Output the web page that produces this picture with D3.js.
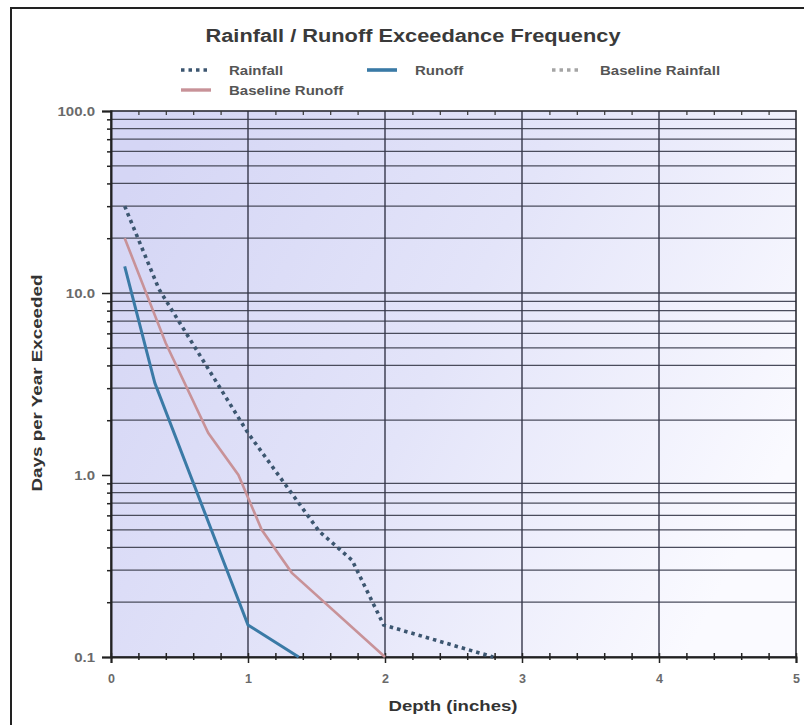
<!DOCTYPE html>
<html><head><meta charset="utf-8">
<script src="https://cdn.jsdelivr.net/npm/d3@7"></script>
<style>
html,body{margin:0;padding:0;background:#fff;}
svg{display:block;font-family:"Liberation Sans",Arial,sans-serif;}
</style></head>
<body>
<svg id="chart" width="804" height="725"></svg>
<script>
// ---- data ----
const titleText = "Rainfall / Runoff Exceedance Frequency";
const xTitle = "Depth (inches)";
const yTitle = "Days per Year Exceeded";
const xTicks = [0, 1, 2, 3, 4, 5];
const xMinorTicks = [0.2,0.4,0.6,0.8,1.2,1.4,1.6,1.8,2.2,2.4,2.6,2.8,3.2,3.4,3.6,3.8,4.2,4.4,4.6,4.8];
const yTicks = [0.1, 1, 10, 100];
const yMinor = [0.2,0.3,0.4,0.5,0.6,0.7,0.8,0.9,2,3,4,5,6,7,8,9,20,30,40,50,60,70,80,90];
const rainfallDepth = [0.1, 0.35, 1.0, 1.52, 1.76, 1.99, 2.79];
const rainfallDays  = [30, 10.5, 1.7, 0.49, 0.34, 0.15, 0.1];
const runoffDepth = [0.1, 0.32, 1.0, 1.37];
const runoffDays  = [14, 3.2, 0.15, 0.1];
const baseRunoffDepth = [0.1, 0.4, 0.71, 0.93, 1.1, 1.32, 2.0];
const baseRunoffDays  = [20, 5.3, 1.7, 1.0, 0.5, 0.29, 0.1];
const legendNames = ["Rainfall", "Runoff", "Baseline Rainfall", "Baseline Runoff"];

// ---- chart ----
const svg = d3.select("#chart");
const L = 111, R = 796, T = 111, B = 657;
const x = d3.scaleLinear().domain([0, 5]).range([L, R]);
const y = d3.scaleLog().domain([0.1, 100]).range([B, T]);

// widen text horizontally (reference glyphs are wider than available fonts)
function stretch(sel, k) {
  sel.each(function () {
    const len = this.getComputedTextLength();
    d3.select(this).attr("textLength", len * k).attr("lengthAdjust", "spacingAndGlyphs");
  });
}

// outer frame
svg.append("rect").attr("x", 11).attr("y", 8).attr("width", 820).attr("height", 740)
  .attr("fill", "#fff").attr("stroke", "#222").attr("stroke-width", 2);

// gradient
const defs = svg.append("defs");
const g = defs.append("linearGradient").attr("id", "bg")
  .attr("x1", "0%").attr("y1", "20%").attr("x2", "100%").attr("y2", "60%");
g.append("stop").attr("offset", "0%").attr("stop-color", "#d5d6f5");
g.append("stop").attr("offset", "50%").attr("stop-color", "#e3e4f9");
g.append("stop").attr("offset", "100%").attr("stop-color", "#fafaff");
svg.append("rect").attr("x", L).attr("y", T).attr("width", R - L).attr("height", B - T)
  .attr("fill", "url(#bg)");

// grid
const grid = svg.append("g");
grid.selectAll("line.hy").data(yMinor.concat([10])).join("line")
  .attr("x1", L).attr("x2", R).attr("y1", d => y(d)).attr("y2", d => y(d))
  .attr("stroke", "#4a4c5c").attr("stroke-width", 1.3);
grid.selectAll("line.vx").data([1, 2, 3, 4]).join("line")
  .attr("y1", T).attr("y2", B).attr("x1", d => x(d)).attr("x2", d => x(d))
  .attr("stroke", "#35374a").attr("stroke-width", 1.4);

// frame
svg.append("rect").attr("x", L).attr("y", T).attr("width", R - L).attr("height", B - T)
  .attr("fill", "none").attr("stroke", "#2a2a33").attr("stroke-width", 1.6);

// axes
const xAxis = d3.axisBottom(x).tickValues(xTicks).tickSize(6).tickFormat(d3.format("d"));
const gx = svg.append("g").attr("transform", `translate(0,${B})`).call(xAxis);
gx.select(".domain").attr("stroke", "#222").attr("stroke-width", 2);
gx.selectAll(".tick line").attr("stroke", "#222").attr("stroke-width", 1.5).attr("y1", -4);
gx.selectAll(".tick text").attr("font-size", 12.5).attr("font-weight", "bold").attr("fill", "#6a6a6a").attr("dy", "1.35em");
const xMinorAxis = d3.axisBottom(x).tickValues(xMinorTicks).tickSize(3).tickFormat("");
const gxm = svg.append("g").attr("transform", `translate(0,${B})`).call(xMinorAxis);
gxm.select(".domain").remove();
gxm.selectAll(".tick line").attr("stroke", "#222").attr("stroke-width", 1.5).attr("y1", -4);
const xTopMinor = d3.axisBottom(x).tickValues(xMinorTicks).tickSize(4).tickFormat("");
const gxt = svg.append("g").attr("transform", `translate(0,${T})`).call(xTopMinor);
gxt.select(".domain").remove();
gxt.selectAll(".tick line").attr("stroke", "#333").attr("stroke-width", 1.2);

const yAxis = d3.axisLeft(y).tickValues(yTicks).tickSize(9).tickFormat(d3.format(".1f"));
const gy = svg.append("g").attr("transform", `translate(${L},0)`).call(yAxis);
gy.select(".domain").attr("stroke", "#222").attr("stroke-width", 2);
gy.selectAll(".tick line").attr("stroke", "#222").attr("stroke-width", 1.5);
gy.selectAll(".tick text").attr("font-size", 12.5).attr("font-weight", "bold").attr("fill", "#6a6a6a").attr("x", -16);
stretch(gy.selectAll(".tick text"), 1.2);
const yMinorAxis = d3.axisLeft(y).tickValues(yMinor).tickSize(4).tickFormat("");
const gym = svg.append("g").attr("transform", `translate(${L},0)`).call(yMinorAxis);
gym.select(".domain").remove();
gym.selectAll(".tick line").attr("stroke", "#222").attr("stroke-width", 1.5);

// series
const line = d3.line().x(d => x(d[0])).y(d => y(d[1]));
const zip = (a, b) => a.map((v, i) => [v, b[i]]);
const plot = svg.append("g");
plot.append("path").datum(zip(baseRunoffDepth, baseRunoffDays)).attr("d", line)
  .attr("fill", "none").attr("stroke", "#c89298").attr("stroke-width", 2.6);
plot.append("path").datum(zip(runoffDepth, runoffDays)).attr("d", line)
  .attr("fill", "none").attr("stroke", "#3a7aa6").attr("stroke-width", 3);
plot.append("path").datum(zip(rainfallDepth, rainfallDays)).attr("d", line)
  .attr("fill", "none").attr("stroke", "#3c5670").attr("stroke-width", 3.6)
  .attr("stroke-dasharray", "3.5,4");

// title
const tt = svg.append("text").attr("x", 413).attr("y", 42).attr("text-anchor", "middle")
  .attr("font-size", 18).attr("font-weight", "bold").attr("fill", "#3a3a3a").text(titleText);
tt.attr("textLength", 415).attr("lengthAdjust", "spacingAndGlyphs");

// legend
const legendItems = [
  {name: legendNames[0], x: 181, y: 70, color: "#3c5670", dash: "3.5,4", w: 3.6},
  {name: legendNames[1], x: 367, y: 70, color: "#3a7aa6", dash: null, w: 3.6},
  {name: legendNames[2], x: 552, y: 70, color: "#a5a5a5", dash: "3.5,4", w: 3.4},
  {name: legendNames[3], x: 181, y: 90, color: "#c89298", dash: null, w: 3.4}
];
const lg = svg.append("g").selectAll("g").data(legendItems).join("g");
lg.append("line").attr("x1", d => d.x).attr("x2", d => d.x + 30)
  .attr("y1", d => d.y).attr("y2", d => d.y)
  .attr("stroke", d => d.color).attr("stroke-width", d => d.w)
  .attr("stroke-dasharray", d => d.dash);
const lt = lg.append("text").attr("x", d => d.x + 48).attr("y", d => d.y + 4.5)
  .attr("font-size", 12.5).attr("font-weight", "bold").attr("fill", "#555").text(d => d.name);
stretch(lt, 1.2);

// axis titles
svg.append("text").attr("x", 453).attr("y", 711).attr("text-anchor", "middle")
  .attr("font-size", 15).attr("font-weight", "bold").attr("fill", "#333").text(xTitle)
  .attr("textLength", 129).attr("lengthAdjust", "spacingAndGlyphs");
svg.append("text").attr("transform", "translate(42,383) rotate(-90)").attr("text-anchor", "middle")
  .attr("font-size", 15).attr("font-weight", "bold").attr("fill", "#333").text(yTitle)
  .attr("textLength", 217).attr("lengthAdjust", "spacingAndGlyphs");
</script>
</body></html>
